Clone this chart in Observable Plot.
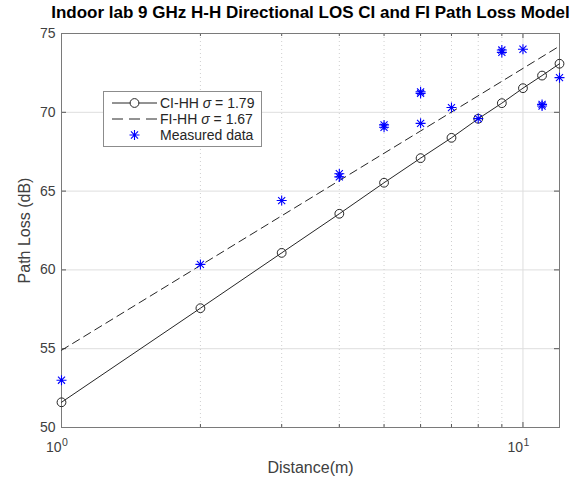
<!DOCTYPE html>
<html>
<head>
<meta charset="utf-8">
<script src="https://cdn.jsdelivr.net/npm/d3@7"></script>
<script src="https://cdn.jsdelivr.net/npm/@observablehq/plot@0.6"></script>
<style>
  body { margin: 0; background: white; }
  #wrap { position: relative; width: 586px; height: 480px; font-family: "Liberation Sans", Arial, sans-serif; }
  #legend { position: absolute; left: 103px; top: 91px; width: 159px; height: 56px; box-sizing: border-box;
            border: 1px solid #8c8c8c; background: white; }
</style>
</head>
<body>
<div id="wrap"></div>
<script>
// ---- data ----
const titleText = "Indoor lab 9 GHz H-H Directional LOS CI and FI Path Loss Model";
const xLabel = "Distance(m)";
const yLabel = "Path Loss (dB)";

const distances = [1, 2, 3, 4, 5, 6, 7, 8, 9, 10, 11, 12];
const ciValues = [51.6, 57.57, 61.08, 63.56, 65.53, 67.09, 68.38, 69.59, 70.58, 71.53, 72.33, 73.08];

const fiDistances = [1, 12];
const fiValues = [54.9, 74.2];

const measDistances = [1, 2, 3, 4, 4, 5, 5, 6, 6, 6, 7, 8, 9, 9, 10, 11, 11, 12];
const measValues = [53.0, 60.35, 64.4, 65.9, 66.1, 69.05, 69.2, 71.2, 71.3, 69.3, 70.3, 69.6, 73.8, 73.95, 74.0, 70.4, 70.5, 72.2];

const xMajorTicks = [1, 10];
const xTickBase = ["10", "10"];
const xTickExp = ["0", "1"];
const xMinorTicks = [2, 3, 4, 5, 6, 7, 8, 9];
const yTicks = [50, 55, 60, 65, 70, 75];
const yGrid = [55, 60, 65, 70];

const legendNames = ["CI-HH", "FI-HH", "Measured data"];
const legendSigmas = [1.79, 1.67, null];

// ---- tables ----
const ciData = distances.map((d, i) => ({d, v: ciValues[i]}));
const fiData = fiDistances.map((d, i) => ({d, v: fiValues[i]}));
const measData = measDistances.map((d, i) => ({d, v: measValues[i]}));

// MATLAB-style asterisk (+ and x)
const asterisk = {
  draw(ctx, size) {
    const r = Math.sqrt(size / Math.PI);
    const q = r * 0.7071;
    ctx.moveTo(-r, 0); ctx.lineTo(r, 0);
    ctx.moveTo(0, -r); ctx.lineTo(0, r);
    ctx.moveTo(-q, -q); ctx.lineTo(q, q);
    ctx.moveTo(-q, q); ctx.lineTo(q, -q);
  }
};

const xDom = [1, 12], yDom = [50, 75];
// tick lengths expressed in data units (approx 5px major, 3px minor)
const yPx = (yDom[1] - yDom[0]) / 394;
const xPxF = Math.pow(10, Math.log10(xDom[1] / xDom[0]) / 498);
const tickColor = "#555";
const textColor = "#404040";

const allXTicks = [...xMajorTicks, ...xMinorTicks];
const tickLen = d => (xMajorTicks.includes(d) ? 5 : 3);

const chart = Plot.plot({
  width: 586,
  height: 480,
  marginLeft: 61,
  marginRight: 27,
  marginTop: 33,
  marginBottom: 53,
  x: {type: "log", domain: xDom, axis: null},
  y: {domain: yDom, axis: null},
  style: {fontFamily: "'Liberation Sans', Arial, sans-serif", background: "white", overflow: "visible"},
  marks: [
    Plot.ruleY(yGrid, {stroke: "#dedede", strokeWidth: 1}),
    Plot.ruleX(xMinorTicks, {stroke: "#cfcfcf", strokeWidth: 1, strokeDasharray: "1,3"}),
    Plot.ruleX([10], {stroke: "#dedede", strokeWidth: 1}),
    // ticks, inward, all four sides
    Plot.ruleX(allXTicks, {x: d => d, y1: yDom[0], y2: d => yDom[0] + tickLen(d) * yPx, stroke: tickColor}),
    Plot.ruleX(allXTicks, {x: d => d, y1: yDom[1], y2: d => yDom[1] - tickLen(d) * yPx, stroke: tickColor}),
    Plot.ruleY(yTicks, {y: d => d, x1: xDom[0], x2: xDom[0] * Math.pow(xPxF, 5), stroke: tickColor}),
    Plot.ruleY(yTicks, {y: d => d, x1: xDom[1], x2: xDom[1] / Math.pow(xPxF, 5), stroke: tickColor}),
    Plot.frame({stroke: "#7a7a7a", strokeWidth: 1}),
    // model lines
    Plot.line(fiData, {x: "d", y: "v", stroke: "#262626", strokeWidth: 1, strokeDasharray: "8,5"}),
    Plot.line(ciData, {x: "d", y: "v", stroke: "#262626", strokeWidth: 1}),
    Plot.dot(ciData, {x: "d", y: "v", r: 4.4, stroke: "#262626", fill: "none", strokeWidth: 1}),
    Plot.dot(measData, {x: "d", y: "v", r: 5, symbol: asterisk, stroke: "#0000ff", fill: "none", strokeWidth: 1.1}),
    // tick labels
    Plot.text(yTicks, {x: xDom[0], y: d => d, text: d => String(d), textAnchor: "end", dx: -6, fontSize: 14, fill: textColor}),
    Plot.text(xMajorTicks, {x: d => d, y: yDom[0], text: (d, i) => xTickBase[i], textAnchor: "end", dx: 0, dy: 20, fontSize: 14, fill: textColor}),
    Plot.text(xMajorTicks, {x: d => d, y: yDom[0], text: (d, i) => xTickExp[i], textAnchor: "start", dx: 0.5, dy: 15, fontSize: 10.5, fill: textColor}),
    // axis labels & title
    Plot.text([xLabel], {frameAnchor: "bottom", lineAnchor: "middle", textAnchor: "middle", text: d => d, dy: 40, fontSize: 16, fill: textColor}),
    Plot.text([yLabel], {frameAnchor: "left", lineAnchor: "middle", textAnchor: "middle", text: d => d, rotate: -90, dx: -37, fontSize: 16, fill: textColor}),
    Plot.text([titleText], {frameAnchor: "top", lineAnchor: "middle", textAnchor: "middle", text: d => d, dy: -21, fontSize: 17, fontWeight: "bold", fill: "#000"})
  ]
});

const wrap = document.getElementById("wrap");
wrap.appendChild(chart);

// legend
const legend = document.createElement("div");
legend.id = "legend";
const rowsY = [11, 27, 43];
const ns = "http://www.w3.org/2000/svg";
let svg = `<svg xmlns="${ns}" width="157" height="54" style="display:block">`;
// CI row
svg += `<line x1="8" x2="53" y1="${rowsY[0]}" y2="${rowsY[0]}" stroke="#262626" stroke-width="1"/>`;
svg += `<circle cx="30.5" cy="${rowsY[0]}" r="4.4" fill="white" stroke="#262626" stroke-width="1"/>`;
// FI row
svg += `<line x1="8" x2="53" y1="${rowsY[1]}" y2="${rowsY[1]}" stroke="#262626" stroke-width="1" stroke-dasharray="11,6"/>`;
// Measured row
{
  const cx = 30.5, cy = rowsY[2], r = 5, q = r * 0.7071;
  svg += `<path d="M${cx - r},${cy}L${cx + r},${cy}M${cx},${cy - r}L${cx},${cy + r}M${cx - q},${cy - q}L${cx + q},${cy + q}M${cx - q},${cy + q}L${cx + q},${cy - q}" stroke="#0000ff" stroke-width="1.1" fill="none"/>`;
}
legendNames.forEach((name, i) => {
  const s = legendSigmas[i];
  const label = s == null ? name : `${name} <tspan font-style="italic">σ</tspan> = ${s.toFixed(2)}`;
  svg += `<text x="56" y="${rowsY[i]}" dy="0.35em" font-size="14" fill="#262626" font-family="'Liberation Sans', Arial, sans-serif">${label}</text>`;
});
svg += `</svg>`;
legend.innerHTML = svg;
wrap.appendChild(legend);
</script>
</body>
</html>
